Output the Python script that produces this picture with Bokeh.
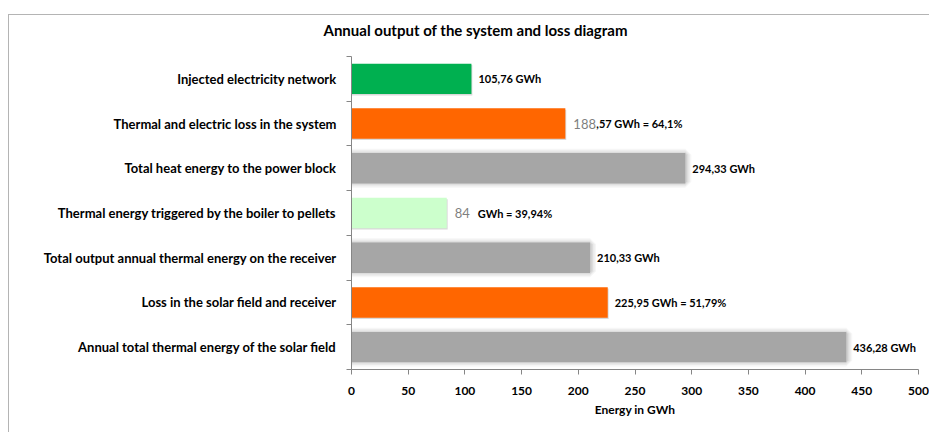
from bokeh.plotting import figure
from bokeh.models import FixedTicker, Range1d, ColumnDataSource
from bokeh.core.properties import value
from bokeh.embed import file_html
from bokeh.resources import INLINE

# ---- data (top to bottom) ----
categories = [
    "Injected electricity network",
    "Thermal and electric loss in the system",
    "Total heat energy to the power block",
    "Thermal energy triggered by the boiler to pellets",
    "Total output annual thermal energy on the receiver",
    "Loss in the solar field and receiver",
    "Annual total thermal energy of the solar field",
]
values = [105.76, 188.57, 294.33, 84, 210.33, 225.95, 436.28]
colors = ["#00b050", "#ff6600", "#a6a6a6", "#ccffcc", "#a6a6a6", "#ff6600", "#a6a6a6"]
label_prefix = ["", "188", "", "84", "", "", ""]
label_main = ["105,76 GWh", ",57 GWh = 64,1%", "294,33 GWh", "GWh = 39,94%",
              "210,33 GWh", "225,95 GWh = 51,79%", "436,28 GWh"]
x_ticks = [0, 50, 100, 150, 200, 250, 300, 350, 400, 450, 500]
title_text = "Annual output of the system and loss diagram"
x_label = "Energy in GWh"

FONT = "Lato"
n = len(categories)
ypos = [n - i for i in range(n)]

src = ColumnDataSource(dict(y=ypos, v=values, c=colors, pre=label_prefix, main=label_main,
                            moff=[31 if pre else 7 for pre in label_prefix]))

p = figure(width=929, height=432, output_backend="svg", toolbar_location=None,
           x_range=Range1d(0, 500), y_range=Range1d(0.5, n + 0.5),
           min_border_left=351, min_border_right=11, min_border_top=54, min_border_bottom=63)
p.styles = {
    "background": ("linear-gradient(#b4b4b4,#b4b4b4) 8px 14px / 1px 100% no-repeat, "
                   "linear-gradient(#b4b4b4,#b4b4b4) 8px 14px / 100% 1px no-repeat, white"),
}
p.border_fill_alpha = 0
p.title.text = title_text
p.title.align = "left"
p.title.offset = -28
p.title.standoff = 36
p.title.text_font = FONT
p.title.text_font_size = "15px"
p.title.text_font_style = "bold"
p.title.text_color = "black"
p.outline_line_color = None
p.xgrid.grid_line_color = None
p.ygrid.grid_line_color = None
p.background_fill_color = "white"

gray_idx = [i for i, c in enumerate(colors) if c == "#a6a6a6"]
gsrc = ColumnDataSource(dict(y=[ypos[i] for i in gray_idx], v=[values[i] for i in gray_idx]))
for lw, a in [(12, 0.10), (9, 0.14), (6, 0.2), (3, 0.3)]:
    p.hbar(y="y", right="v", left=0, height=0.6, source=gsrc, fill_alpha=0,
           line_color="#a6a6a6", line_width=lw, line_alpha=a)

# subtle shadow for colored bars
csrc = ColumnDataSource(dict(y=[ypos[i] - 0.03 for i in range(n) if i not in gray_idx],
                             v=[values[i] + 0.8 for i in range(n) if i not in gray_idx]))
p.hbar(y="y", right="v", left=0, height=0.68, source=csrc, fill_color="#d9d9d9", line_color=None)

p.hbar(y="y", right="v", left=0, height=0.68, source=src, fill_color="c", line_color=None)

p.text(x="v", y="y", text="pre", source=src, x_offset=8, text_baseline="middle",
       text_font=value(FONT), text_font_size="13px", text_color="#7f7f7f")
p.text(x="v", y="y", text="main", source=src, x_offset="moff", text_baseline="middle",
       text_font=value(FONT), text_font_size="11px", text_font_style="bold", text_color="black")

# axes
p.xaxis.ticker = FixedTicker(ticks=x_ticks)
p.xaxis.axis_line_color = "#868686"
p.xaxis.major_tick_line_color = "#868686"
p.xaxis.major_tick_in = 0
p.xaxis.major_tick_out = 5
p.xaxis.minor_tick_line_color = None
p.xaxis.major_label_text_font = FONT
p.xaxis.major_label_text_font_size = "12px"
p.xaxis.major_label_text_font_style = "bold"
p.xaxis.major_label_text_color = "black"
p.xaxis.major_label_standoff = 12
p.xaxis.axis_label = x_label
p.xaxis.axis_label_text_font = FONT
p.xaxis.axis_label_text_font_size = "12px"
p.xaxis.axis_label_text_font_style = "bold"
p.xaxis.axis_label_text_color = "black"
p.xaxis.axis_label_standoff = 4

bounds = [i + 0.5 for i in range(n + 1)]
p.yaxis.ticker = FixedTicker(ticks=ypos, minor_ticks=bounds)
p.yaxis.major_label_overrides = {y: c for y, c in zip(ypos, categories)}
p.yaxis.axis_line_color = "#868686"
p.yaxis.major_tick_line_color = None
p.yaxis.major_tick_in = 0
p.yaxis.major_tick_out = 0
p.yaxis.minor_tick_line_color = "#868686"
p.yaxis.minor_tick_in = 0
p.yaxis.minor_tick_out = 5
p.yaxis.major_label_standoff = 10
p.yaxis.major_label_text_font = FONT
p.yaxis.major_label_text_font_size = "13px"
p.yaxis.major_label_text_font_style = "bold"
p.yaxis.major_label_text_color = "black"

open("out.html", "w").write(file_html(p, INLINE))
